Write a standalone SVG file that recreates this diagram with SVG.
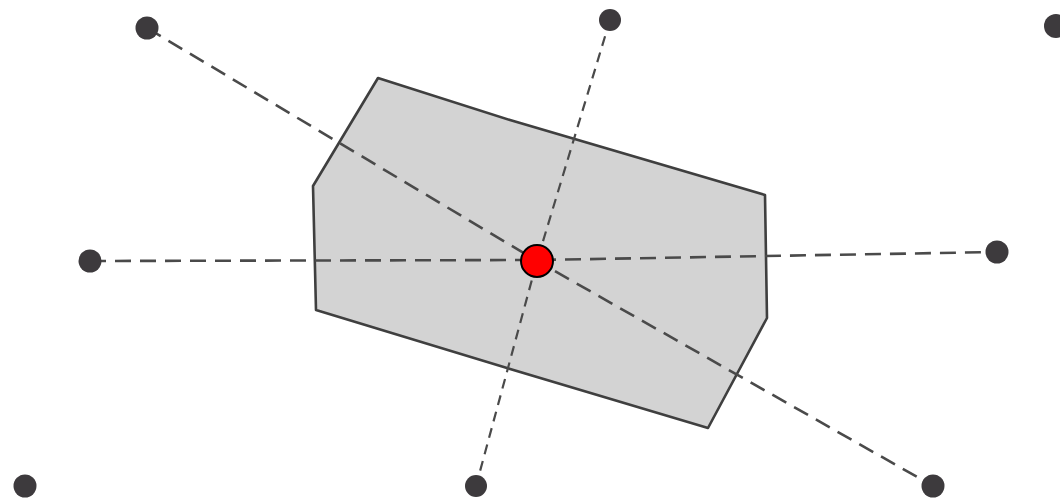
<svg xmlns="http://www.w3.org/2000/svg" width="1060" height="498" viewBox="0 0 1060 498">
<style>
.dash{fill:none;stroke:#4a4a4a;stroke-width:2.6;stroke-dasharray:16 9;stroke-linecap:butt}
.dash2{fill:none;stroke:#4a4a4a;stroke-width:2.2;stroke-dasharray:10 7}
.pt{fill:#3d3a3d}
</style>
<rect width="1060" height="498" fill="#ffffff"/>
<g id="region">
<polygon points="378,78 510,120 765,195 767,318 708,428 507,368 316,310 313,186" fill="#d3d3d3" stroke="#3f3f3f" stroke-width="2.6" stroke-linejoin="round"/>
</g>
<g id="connectors">
<polyline class="dash" points="147,28 537,261 933,486"/>
<polyline class="dash" points="90,261 537,260 997,252"/>
<polyline class="dash2" points="610,20 537,261 476,486"/>
</g>
<g id="p1"><circle class="pt" cx="147" cy="28" r="11.5"/></g>
<g id="p2"><circle class="pt" cx="610" cy="20" r="11"/></g>
<g id="p3"><circle class="pt" cx="1056" cy="26" r="12"/></g>
<g id="p4"><circle class="pt" cx="90" cy="261" r="11.5"/></g>
<g id="p5"><circle class="pt" cx="997" cy="252" r="11.5"/></g>
<g id="p6"><circle class="pt" cx="25" cy="486" r="11.5"/></g>
<g id="p7"><circle class="pt" cx="476" cy="486" r="11"/></g>
<g id="p8"><circle class="pt" cx="933" cy="486" r="11.5"/></g>
<g id="center"><circle cx="537" cy="261" r="16" fill="#ff0000" stroke="#000000" stroke-width="2"/></g>
</svg>
